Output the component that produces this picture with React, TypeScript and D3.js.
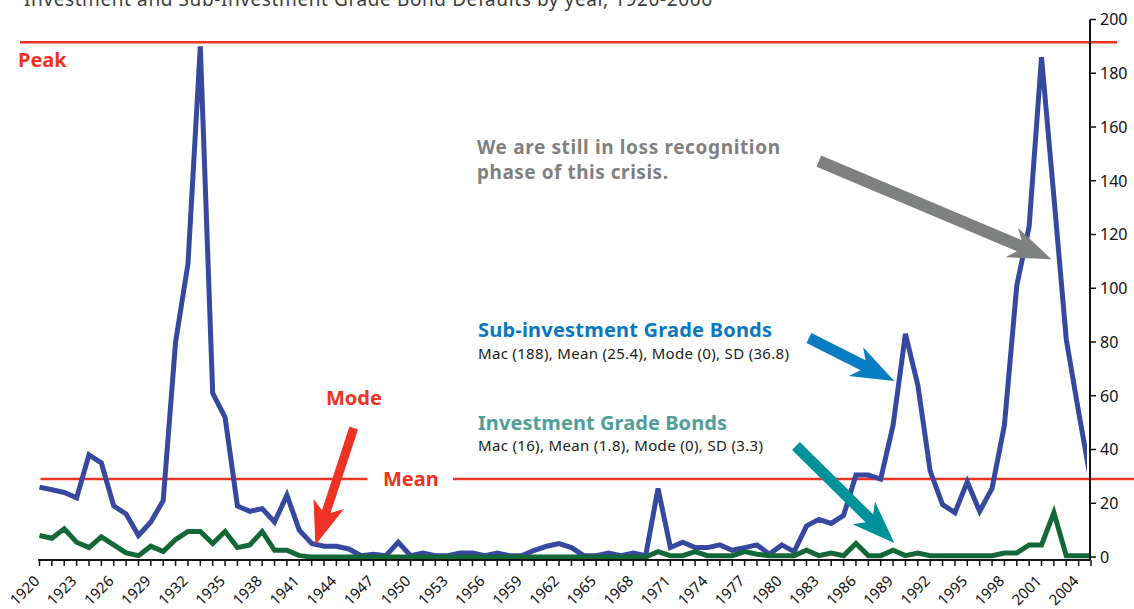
import React, { useRef, useEffect } from 'react';
import * as d3 from 'd3';

// years on the category axis
const years = d3.range(1920, 2006);
const yearLabels = [1920, 1923, 1926, 1929, 1932, 1935, 1938, 1941, 1944, 1947, 1950, 1953, 1956, 1959,
  1962, 1965, 1968, 1971, 1974, 1977, 1980, 1983, 1986, 1989, 1992, 1995, 1998, 2001, 2004];
const valueTicks = [0, 20, 40, 60, 80, 100, 120, 140, 160, 180, 200];

// Sub-investment grade defaults, 1920-2005
const subInvestment = [
  26, 25, 24, 22, 38, 35, 19, 16, 8, 13,
  21, 80, 109, 190, 61, 52, 19, 17, 18, 13,
  23, 10, 5, 4, 4, 3, 0.5, 1, 0.5, 5.5,
  0.5, 1.5, 0.5, 0.5, 1.5, 1.5, 0.5, 1.5, 0.5, 0.5,
  2.5, 4, 5, 3.5, 0.5, 0.5, 1.5, 0.5, 1.5, 0.5,
  25.5, 3.5, 5.5, 3.5, 3.5, 4.5, 2.5, 3.5, 4.5, 1,
  4.5, 2, 11.5, 14, 12.5, 15.5, 30.5, 30.5, 29, 49,
  83, 64, 32, 19.5, 16.5, 28, 17, 25.5, 49, 101,
  123, 186, 134, 81, 54, 28
];

// Investment grade defaults, 1920-2005
const investment = [
  8, 7, 10.5, 5.5, 3.5, 7.5, 4.5, 1.5, 0.5, 4,
  2, 6.5, 9.5, 9.5, 5, 9.5, 3.5, 4.5, 9.5, 2.5,
  2.5, 0.5, 0, 0, 0, 0, 0, 0, 0, 0,
  0, 0, 0, 0, 0, 0, 0, 0, 0, 0,
  0, 0, 0, 0, 0, 0, 0, 0, 0, 0,
  2, 0.5, 0.5, 2, 0.5, 0.5, 0.5, 2, 1, 0.5,
  0.5, 0.5, 2.5, 0.5, 1.5, 0.5, 5, 0.5, 0.5, 2.5,
  0.5, 1.5, 0.5, 0.5, 0.5, 0.5, 0.5, 0.5, 1.5, 1.5,
  4.5, 4.5, 16.5, 0.5, 0.5, 0.5
];

const peakValue = 191.5;
const meanValue = 29;

// annotation arrows, tail and tip in (year, value)
const arrows = [
  { from: [1983.0, 147.3], to: [2001.8, 110.8], color: '#7f8180', shaft: 6 },
  { from: [1982.2, 81.5], to: [1989.1, 65.5], color: '#0a7cc1', shaft: 5.5 },
  { from: [1981.15, 41.3], to: [1989.1, 5.2], color: '#00929b', shaft: 5.5 },
  { from: [1945.4, 48], to: [1942.3, 4.5], color: '#ee3224', shaft: 4.5 },
];

const RED = '#ee3224';
const FONT = '"Noto Sans", "DejaVu Sans", sans-serif';

const App = () => {
  const svgRef = useRef(null);

  useEffect(() => {
    const width = 1134;
    const height = 609;
    const svg = d3.select(svgRef.current)
      .attr('width', width)
      .attr('height', height);
    svg.selectAll('*').remove();

    const x = d3.scalePoint<number>().domain(years).range([39.5, 1091]);
    const y = d3.scaleLinear().domain([0, 200]).range([557, 19.5]);
    const axisX = 1090;
    const baseY = y(0) + 3;

    // title (clipped at the top edge)
    svg.append('text')
      .attr('x', 24).attr('y', 6)
      .attr('font-family', FONT).attr('font-size', 19)
      .attr('fill', '#3c3c3c')
      .attr('textLength', 688)
      .text('Investment and Sub-Investment Grade Bond Defaults by year, 1920-2006');

    // peak & mean reference lines
    svg.append('line')
      .attr('x1', 20).attr('x2', 1117)
      .attr('y1', y(peakValue)).attr('y2', y(peakValue))
      .attr('stroke', RED).attr('stroke-width', 2.5);
    svg.append('line')
      .attr('x1', 40.5).attr('x2', 367.5)
      .attr('y1', y(meanValue)).attr('y2', y(meanValue))
      .attr('stroke', RED).attr('stroke-width', 2.5);
    svg.append('line')
      .attr('x1', 453).attr('x2', width)
      .attr('y1', y(meanValue)).attr('y2', y(meanValue))
      .attr('stroke', RED).attr('stroke-width', 2.5);

    // clip for the series at the right axis
    svg.append('clipPath').attr('id', 'blueclip')
      .append('rect').attr('x', 0).attr('y', 0).attr('width', 1087).attr('height', height);

    const line = d3.line<number>()
      .x((d, i) => x(years[i]) as number)
      .y(d => y(d));

    svg.append('path')
      .datum(subInvestment)
      .attr('fill', 'none')
      .attr('stroke', '#37499e')
      .attr('stroke-width', 5)
      .attr('clip-path', 'url(#blueclip)')
      .attr('d', line);

    svg.append('path')
      .datum(investment)
      .attr('fill', 'none')
      .attr('stroke', '#146837')
      .attr('stroke-width', 5)
      .attr('d', line);

    // bottom axis
    svg.append('line')
      .attr('x1', x(1920)! - 1.5).attr('x2', axisX)
      .attr('y1', baseY).attr('y2', baseY)
      .attr('stroke', '#111').attr('stroke-width', 2);
    svg.append('g')
      .selectAll('line')
      .data(years)
      .join('line')
      .attr('x1', d => x(d)!).attr('x2', d => x(d)!)
      .attr('y1', baseY).attr('y2', baseY + 6)
      .attr('stroke', '#111').attr('stroke-width', 1.5);
    svg.append('g')
      .selectAll('text')
      .data(yearLabels)
      .join('text')
      .attr('transform', d => `translate(${x(d)! + 1},${baseY + 22}) rotate(-45)`)
      .attr('text-anchor', 'end')
      .attr('font-family', FONT).attr('font-size', 15)
      .attr('fill', '#111')
      .text(d => d);

    // right value axis
    svg.append('line')
      .attr('x1', axisX).attr('x2', axisX)
      .attr('y1', y(200)).attr('y2', baseY)
      .attr('stroke', '#111').attr('stroke-width', 2);
    const yt = svg.append('g');
    yt.selectAll('line')
      .data(valueTicks)
      .join('line')
      .attr('x1', axisX).attr('x2', axisX + 6)
      .attr('y1', d => y(d)).attr('y2', d => y(d))
      .attr('stroke', '#111').attr('stroke-width', 1.5);
    yt.selectAll('text')
      .data(valueTicks)
      .join('text')
      .attr('x', axisX + 10).attr('y', d => y(d))
      .attr('dy', '0.36em')
      .attr('font-family', FONT).attr('font-size', 16)
      .attr('fill', '#111')
      .text(d => d);

    // arrows
    arrows.forEach(a => {
      const p0 = [x(years[0])! + (a.from[0] - 1920) * x.step(), y(a.from[1])];
      const p1 = [x(years[0])! + (a.to[0] - 1920) * x.step(), y(a.to[1])];
      const dx = p1[0] - p0[0];
      const dy = p1[1] - p0[1];
      const len = Math.hypot(dx, dy);
      const u = [dx / len, dy / len];
      const v = [-u[1], u[0]];
      const hl = 43, hw = 16, notch = 8, sw = a.shaft;
      const pt = (along: number, side: number) =>
        [p1[0] + u[0] * along + v[0] * side, p1[1] + u[1] * along + v[1] * side];
      const pts = [
        [p0[0] + v[0] * sw, p0[1] + v[1] * sw],
        pt(-(hl - notch), sw),
        pt(-hl, hw),
        p1,
        pt(-hl, -hw),
        pt(-(hl - notch), -sw),
        [p0[0] - v[0] * sw, p0[1] - v[1] * sw],
      ];
      svg.append('polygon')
        .attr('points', pts.map(p => p.join(',')).join(' '))
        .attr('fill', a.color);
    });

    // labels
    const label = (tx: number, ty: number, txt: string, color: string, size: number, weight: number, len?: number) => {
      const t = svg.append('text')
        .attr('x', tx).attr('y', ty)
        .attr('font-family', FONT).attr('font-size', size)
        .attr('font-weight', weight)
        .attr('fill', color)
        .text(txt);
      if (len) t.attr('textLength', len);
      return t;
    };

    label(18, 67, 'Peak', RED, 20, 700);
    label(326, 405, 'Mode', RED, 20, 700);
    label(383, 486, 'Mean', RED, 20, 700);
    label(477, 154, 'We are still in loss recognition', '#808080', 19, 700, 303);
    label(477, 179, 'phase of this crisis.', '#808080', 19, 700, 191);
    label(478, 337, 'Sub-investment Grade Bonds', '#0a78bf', 20, 700, 294);
    label(478, 359, 'Mac (188), Mean (25.4), Mode (0), SD (36.8)', '#1a1a1a', 15, 400, 311);
    label(478, 430, 'Investment Grade Bonds', '#4f9f99', 20, 700, 249);
    label(478, 451, 'Mac (16), Mean (1.8), Mode (0), SD (3.3)', '#1a1a1a', 15, 400, 285);
  }, []);

  return (
    <svg ref={svgRef} style={{ position: 'absolute', left: 0, top: 0 }}></svg>
  );
};

export default App;
